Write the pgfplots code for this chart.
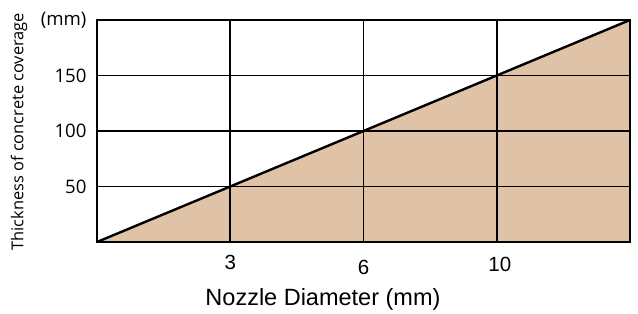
\documentclass[border=0pt]{standalone}
\usepackage{fontspec}
\setmainfont{Open Sans}
\newfontfamily\arialf{Liberation Sans}
\usepackage{pgfplots}
\pgfplotsset{compat=1.18}
\definecolor{fillc}{HTML}{E0C2A6}
\begin{document}
\begin{tikzpicture}
\begin{axis}[
  scale only axis,
  width=533bp, height=222bp,
  xmin=0, xmax=4, ymin=0, ymax=200,
  xtick={1,2,3}, xticklabels={\raisebox{2.5bp}{3},\raisebox{-3bp}{6},\hspace{6bp}10},
  ytick={50,100,150,200}, yticklabels={50,100,150,(mm)\hspace{-6bp}},
  major tick length=0pt,
  grid=major,
  grid style={black, line width=1.8bp},
  axis line style={black, line width=2bp},
  axis on top=true,
  yticklabel style={font=\fontsize{18.6bp}{21bp}\selectfont, xshift=-7bp},
  xticklabel style={font=\arialf\fontsize{20.5bp}{23bp}\selectfont, anchor=base, yshift=-30bp},
  xlabel={Nozzle Diameter (mm)},
  xlabel style={at={(axis description cs:0.424,-0.284)}, anchor=base, font=\arialf\fontsize{23.5bp}{26bp}\selectfont},
  ylabel={Thickness of concrete coverage},
  ylabel style={at={(axis description cs:-0.146,0.497)}, anchor=center, font=\fontsize{16.4bp}{19bp}\selectfont},
]
\addplot[draw=none, fill=fillc] coordinates {(0,0) (4,200)} \closedcycle;
\addplot[black, line width=2.4bp] coordinates {(0,0) (1,50) (2,100) (3,150) (4,200)};
\end{axis}
\path[use as bounding box] ([xshift=-97bp,yshift=-69bp]current axis.south west) rectangle ([xshift=8bp,yshift=20bp]current axis.north east);
\end{tikzpicture}
\end{document}
